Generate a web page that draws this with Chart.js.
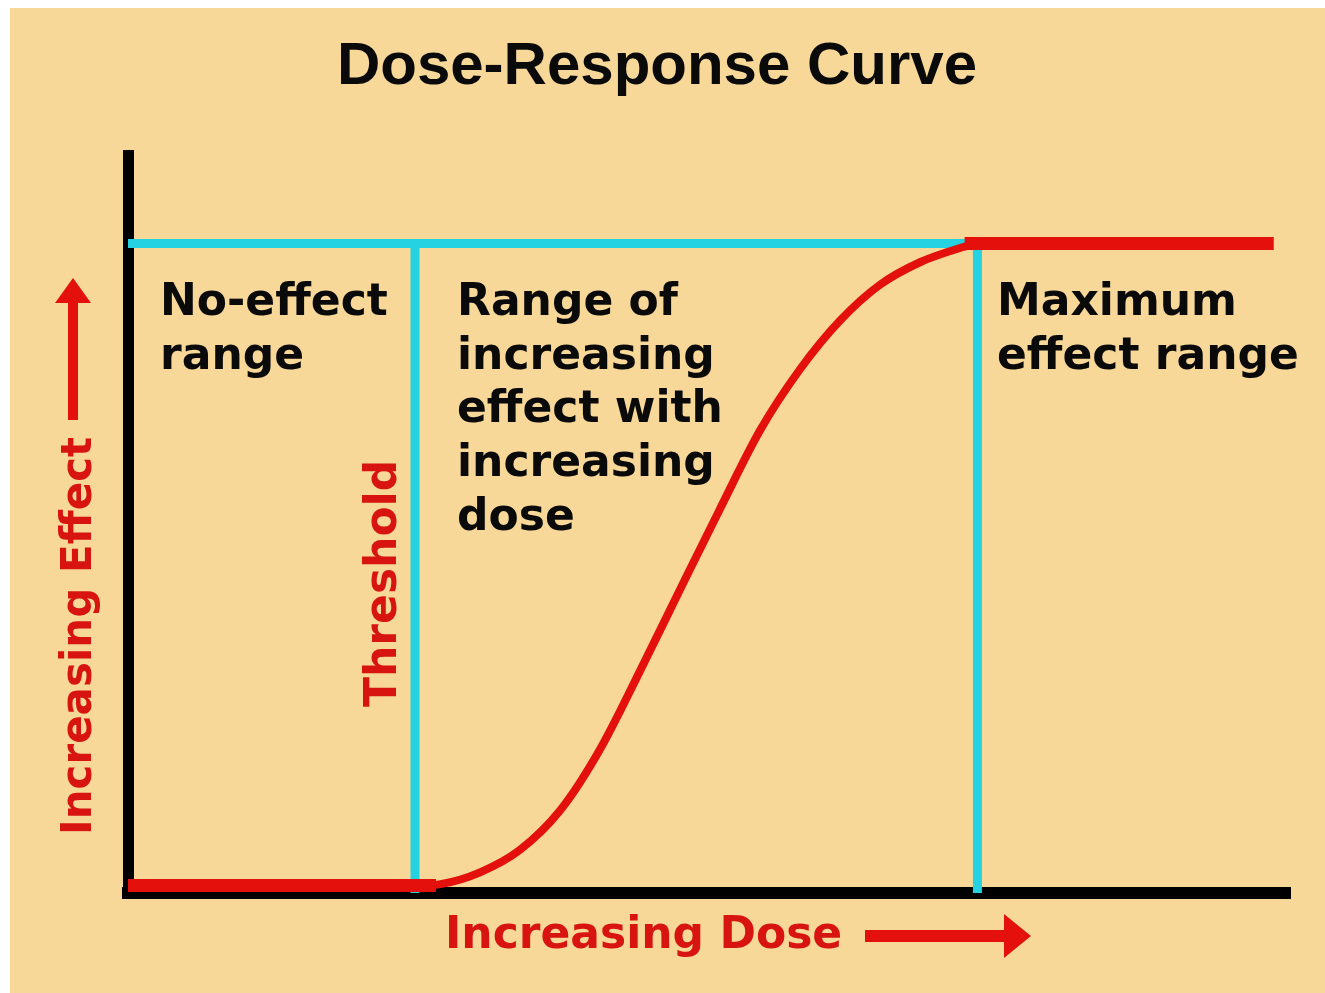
<!DOCTYPE html>
<html>
<head>
<meta charset="utf-8">
<title>Dose-Response Curve</title>
<script src="https://cdn.jsdelivr.net/npm/chart.js@4.4.0/dist/chart.umd.min.js"></script>
<style>
  html, body { margin: 0; padding: 0; background: #ffffff; }
  #wrap { position: relative; width: 1325px; height: 993px; }
</style>
</head>
<body>
<div id="wrap"><canvas id="c"></canvas></div>
<script>
// ---- data ----
const chartTitle = "Dose-Response Curve";
const xAxisLabel = "Increasing Dose";
const yAxisLabel = "Increasing Effect";
const thresholdLabel = "Threshold";

const doseRange = [0, 100];
const effectRange = [0, 100];

const thresholdDose = 24.7;
const maxEffectDose = 73.1;
const maxEffect = 88;
const baselineEffect = 1;
const doseEnd = 98.6;

// rising part of the curve
const curveDose   = [24.7, 26.9, 30.3, 33.7, 37.2, 40.6, 44.1, 47.5, 50.9, 54.4, 57.8, 61.3, 64.7, 68.2, 71.6, 73.1];
const curveEffect = [1.0,  1.2,  2.8,  5.8,  11.2, 19.4, 30.2, 41.1, 51.9, 62.7, 70.9, 77.6, 82.4, 85.5, 87.4, 88.0];

// flat parts of the curve
const noEffectDose   = [0, 26.5];
const maxEffectDoses = [72.0, 98.6];

const regionLabels = [
  ["No-effect", "range"],
  ["Range of", "increasing", "effect with", "increasing", "dose"],
  ["Maximum", "effect range"]
];

// ---- colours ----
const BG = "#f7d898";
const RED = "#e4100c";
const RED_TEXT = "#d81410";
const CYAN = "#24d2e2";
const BLACK = "#0a0a0a";

const toPts = (xs, ys) => xs.map((x, i) => ({x: x, y: ys[i]}));

const bgPlugin = {
  id: "bg",
  beforeDraw(chart) {
    const ctx = chart.ctx;
    ctx.save();
    ctx.fillStyle = "#ffffff";
    ctx.fillRect(0, 0, chart.width, chart.height);
    ctx.fillStyle = BG;
    ctx.fillRect(10, 8, chart.width - 10, chart.height - 8);
    ctx.restore();
  }
};

const labelPlugin = {
  id: "labels",
  afterDraw(chart) {
    const ctx = chart.ctx;
    ctx.save();
    ctx.textBaseline = "alphabetic";
    ctx.textAlign = "left";
    ctx.font = "bold 44px 'DejaVu Sans'";
    ctx.fillStyle = BLACK;
    const lh = 53.7;
    const top = 315;
    const starts = [160, 457, 997];
    regionLabels.forEach((lines, k) => {
      lines.forEach((t, i) => ctx.fillText(t, starts[k], top + i * lh));
    });

    // x axis label + arrow
    ctx.fillStyle = RED_TEXT;
    ctx.font = "bold 44px 'DejaVu Sans'";
    ctx.fillText(xAxisLabel, 445, 948);
    ctx.fillStyle = RED;
    ctx.fillRect(865, 930, 142, 12);
    ctx.beginPath();
    ctx.moveTo(1004, 914); ctx.lineTo(1031, 936); ctx.lineTo(1004, 958); ctx.closePath();
    ctx.fill();

    // y axis label + arrow
    ctx.save();
    ctx.translate(91, 835);
    ctx.rotate(-Math.PI / 2);
    ctx.fillStyle = RED_TEXT;
    ctx.font = "bold 42px 'DejaVu Sans'";
    ctx.fillText(yAxisLabel, 0, 0);
    ctx.restore();
    ctx.fillStyle = RED;
    ctx.fillRect(68, 300, 10, 120);
    ctx.beginPath();
    ctx.moveTo(55, 303); ctx.lineTo(73, 278); ctx.lineTo(91, 303); ctx.closePath();
    ctx.fill();

    // threshold label
    ctx.save();
    ctx.translate(396, 707);
    ctx.rotate(-Math.PI / 2);
    ctx.fillStyle = RED_TEXT;
    ctx.font = "bold 44px 'DejaVu Sans'";
    ctx.fillText(thresholdLabel, 0, 0);
    ctx.restore();
    ctx.restore();
  }
};

const lineDefaults = { showLine: true, pointRadius: 0, pointHoverRadius: 0, fill: false };

new Chart(document.getElementById("c"), {
  type: "scatter",
  data: {
    datasets: [
      Object.assign({ label: "No effect", data: toPts(noEffectDose, [baselineEffect, baselineEffect]),
        borderColor: RED, borderWidth: 13 }, lineDefaults),
      Object.assign({ label: "Response", data: toPts(curveDose, curveEffect),
        borderColor: RED, borderWidth: 8, cubicInterpolationMode: "monotone", borderCapStyle: "round" }, lineDefaults),
      Object.assign({ label: "Maximum effect", data: toPts(maxEffectDoses, [maxEffect, maxEffect]),
        borderColor: RED, borderWidth: 13 }, lineDefaults),
      Object.assign({ label: "Max level", data: toPts([0, maxEffectDose], [maxEffect, maxEffect]),
        borderColor: CYAN, borderWidth: 9 }, lineDefaults),
      Object.assign({ label: "Threshold", data: toPts([thresholdDose, thresholdDose], [0, maxEffect]),
        borderColor: CYAN, borderWidth: 9, borderCapStyle: "square" }, lineDefaults),
      Object.assign({ label: "Max dose", data: toPts([maxEffectDose, maxEffectDose], [0, maxEffect]),
        borderColor: CYAN, borderWidth: 9, borderCapStyle: "square" }, lineDefaults)
    ]
  },
  options: {
    responsive: true,
    maintainAspectRatio: false,
    animation: false,
    events: [],
    layout: { padding: { left: 24, right: 35, top: 0, bottom: 0 } },
    plugins: {
      legend: { display: false },
      tooltip: { enabled: false },
      title: {
        display: true,
        text: chartTitle,
        color: BLACK,
        font: { family: "'Liberation Sans', Arial, sans-serif", size: 60, weight: "bold", lineHeight: 1.2 },
        padding: { top: 31, bottom: 52 }
      }
    },
    scales: {
      x: {
        type: "linear", min: doseRange[0], max: doseRange[1],
        grid: { display: false, drawTicks: false },
        ticks: { display: false },
        border: { display: true, color: "#000", width: 12 },
        afterFit: s => { s.height = 100; }
      },
      y: {
        type: "linear", min: effectRange[0], max: effectRange[1],
        grid: { display: false, drawTicks: false },
        ticks: { display: false },
        border: { display: true, color: "#000", width: 11 },
        afterFit: s => { s.width = 104; }
      }
    }
  },
  plugins: [bgPlugin, labelPlugin]
});
</script>
</body>
</html>
